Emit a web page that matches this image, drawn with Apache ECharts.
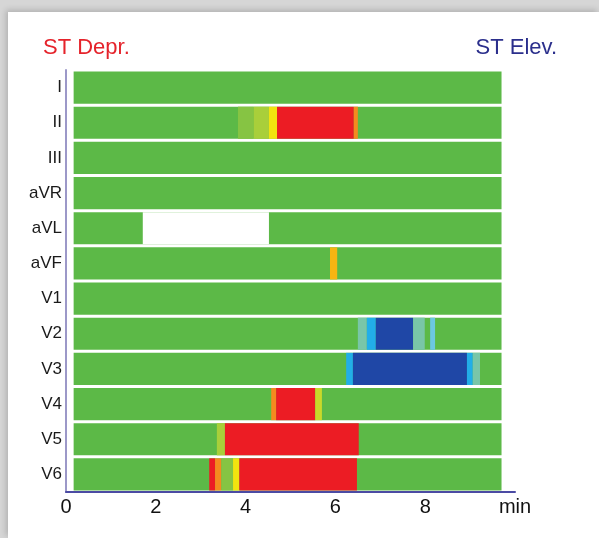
<!DOCTYPE html>
<html>
<head>
<meta charset="utf-8">
<script src="https://cdn.jsdelivr.net/npm/echarts@6/dist/echarts.min.js"></script>
<style>
  html,body{margin:0;padding:0;width:599px;height:538px;overflow:hidden;background:#d6d6d6;}
  #card{position:absolute;left:8px;top:12px;right:0;bottom:0;background:#fff;box-shadow:-2px -2px 6px rgba(0,0,0,0.18);}
  #chart{position:absolute;left:0;top:0;width:599px;height:538px;}
</style>
</head>
<body>
<div id="card"></div>
<div id="chart"></div>
<script>
// Leads (rows, top to bottom)
const leads = ['I','II','III','aVR','aVL','aVF','V1','V2','V3','V4','V5','V6'];
// X axis ticks (minutes); last tick shown as unit label
const xTicks = [0, 2, 4, 6, 8, 10];
const xUnit = 'min';
// Recording span (min)
const recStart = 0.17;
const recEnd = 9.7;
// ST level per segment: [start min, end min, ST level mm] (negative = depression, positive = elevation, null = no data)
const segII  = [[3.83, 4.18, -0.3], [4.18, 4.52, -0.6], [4.52, 4.70, -1], [4.70, 6.41, -2], [6.41, 6.50, -1.5]];
const segAVL = [[1.71, 4.52, null]];
const segAVF = [[5.88, 6.04, -1.2]];
const segV2  = [[6.50, 6.70, 0.3], [6.70, 6.90, 1], [6.90, 7.73, 2], [7.73, 7.99, 0.3], [8.11, 8.22, 0.6]];
const segV3  = [[6.24, 6.39, 1], [6.39, 8.93, 2], [8.93, 9.06, 1], [9.06, 9.22, 0.3]];
const segV4  = [[4.57, 4.68, -1.5], [4.68, 5.55, -2], [5.55, 5.70, -0.8]];
const segV5  = [[3.36, 3.54, -0.6], [3.54, 6.52, -2]];
const segV6  = [[3.19, 3.32, -2], [3.32, 3.46, -1.5], [3.46, 3.72, -0.3], [3.72, 3.86, -1], [3.86, 6.48, -2]];

const segByLead = {II: segII, aVL: segAVL, aVF: segAVF, V2: segV2, V3: segV3, V4: segV4, V5: segV5, V6: segV6};

function levelColor(v) {
  if (v === null || v === undefined || isNaN(v)) return '#ffffff';
  if (v <= -1.8) return '#ec1c24';
  if (v <= -1.4) return '#f58a1f';
  if (v <= -1.1) return '#f7b512';
  if (v <= -0.9) return '#f2e40f';
  if (v <= -0.7) return '#c9d92a';
  if (v <= -0.5) return '#a9cf3a';
  if (v <= -0.2) return '#86c443';
  if (v < 0.2) return '#5cb947';
  if (v < 0.5) return '#79c6a8';
  if (v < 0.8) return '#6cc8e0';
  if (v < 1.5) return '#22aee8';
  return '#1f47a6';
}

const data = [];
leads.forEach((l, i) => data.push([i, recStart, recEnd, 0]));
leads.forEach((l, i) => {
  (segByLead[l] || []).forEach(s => data.push([i, s[0], s[1], s[2] === null ? NaN : s[2]]));
});

const chart = echarts.init(document.getElementById('chart'));
chart.setOption({
  backgroundColor: 'transparent',
  animation: false,
  title: [
    {text: 'ST Depr.', left: 38, top: 32, textStyle: {color: '#e5232b', fontSize: 22, fontWeight: 'normal', fontFamily: 'Liberation Sans'}},
    {text: 'ST Elev.', right: 37, top: 32, textStyle: {color: '#2b2f8c', fontSize: 22, fontWeight: 'normal', fontFamily: 'Liberation Sans'}}
  ],
  grid: {left: 66, right: 84, top: 70, bottom: 46},
  xAxis: {
    type: 'value', min: 0, max: 10, interval: 2,
    axisLine: {show: true, lineStyle: {color: '#4b4ba3', width: 2}},
    axisTick: {show: false},
    splitLine: {show: false},
    axisLabel: {
      color: '#111', fontSize: 20, fontFamily: 'Liberation Sans', margin: 5,
      formatter: v => (v === xTicks[xTicks.length - 1] ? xUnit : String(v))
    }
  },
  yAxis: {
    type: 'category', data: leads, inverse: true,
    axisLine: {show: true, lineStyle: {color: '#9c98c8', width: 2}},
    axisTick: {show: false},
    splitLine: {show: false},
    axisLabel: {color: '#1a1a1a', fontSize: 17, fontFamily: 'Liberation Sans', margin: 4}
  },
  series: [{
    type: 'custom',
    data: data,
    encode: {x: [1, 2], y: 0},
    renderItem: function (params, api) {
      const row = api.value(0);
      const p0 = api.coord([api.value(1), row]);
      const p1 = api.coord([api.value(2), row]);
      const h = api.size([0, 1])[1];
      const gap = 3;
      return {
        type: 'rect',
        shape: {x: p0[0], y: p0[1] - h / 2 + gap / 2, width: p1[0] - p0[0], height: h - gap},
        style: {fill: levelColor(api.value(3))}
      };
    }
  }]
});
</script>
</body>
</html>
